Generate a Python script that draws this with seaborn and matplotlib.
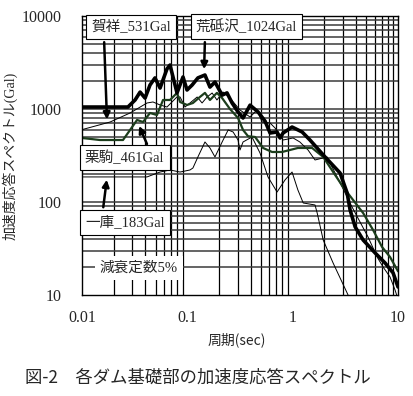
import numpy as np
import pandas as pd
import matplotlib
matplotlib.use("Agg")
import matplotlib.pyplot as plt
import seaborn as sns

# period (sec) / spectral acceleration (Gal)
aratozawa_t = [0.01, 0.0273, 0.0319, 0.0356, 0.0397, 0.0442, 0.0493, 0.0551, 0.0641, 0.0685,
               0.0798, 0.091, 0.0993, 0.111, 0.126, 0.147, 0.164, 0.183, 0.214, 0.238,
               0.266, 0.303, 0.338, 0.394, 0.469, 0.547, 0.61, 0.711, 0.759, 0.811,
               0.987, 1.23, 1.46, 2.03, 2.82, 3.29, 3.51, 3.92, 4.67, 6.07, 7.54, 8.98, 10]
aratozawa_s = [1050, 1050, 1250, 1520, 1310, 1810, 2160, 1680, 2700, 2970,
               1490, 2210, 1600, 1810, 2160, 2320, 1720, 1950, 1410, 1490,
               1160, 930, 800, 1100, 930, 740, 552, 566, 488, 552,
               640, 566, 464, 305, 205, 125, 82, 54, 39, 28.3, 22.1, 17.3, 12.2]

kurikoma_t = [0.01, 0.0148, 0.0245, 0.0286, 0.0333, 0.038, 0.0442, 0.0515, 0.0588, 0.0685,
              0.0798, 0.0853, 0.0993, 0.113, 0.132, 0.147, 0.164, 0.191, 0.214, 0.254,
              0.303, 0.338, 0.377, 0.44, 0.524, 0.637, 0.793, 1.12, 1.53, 1.95,
              3.01, 3.75, 4.67, 5.8, 7.06, 8.41, 10]
kurikoma_s = [488, 464, 464, 595, 762, 725, 906, 862, 1250, 1250,
              1490, 1190, 1105, 1160, 1350, 1490, 1250, 1490, 1310, 1000,
              800, 595, 510, 500, 381, 345, 345, 381, 381, 305,
              145, 105, 76, 50, 32.8, 25.6, 18]

kasho_t = [0.01, 0.0185, 0.0286, 0.0414, 0.0472, 0.0551, 0.0641, 0.0798, 0.0853, 0.0951,
           0.106, 0.124, 0.138, 0.154, 0.172, 0.191, 0.218, 0.254, 0.316, 0.394,
           0.459, 0.512, 0.61, 0.68, 0.811, 1.01, 1.17, 1.4, 1.63, 2.12,
           2.95, 3.29, 3.67, 4.36, 5.2, 6.34, 7.22, 8.41, 9.38, 10]
kasho_s = [600, 725, 906, 1160, 1190, 1105, 1050, 1350, 1346, 1051,
           1161, 1346, 1161, 1346, 1486, 1250, 1523, 1313, 976, 820,
           976, 725, 707, 625, 464, 488, 442, 362, 283, 305,
           145, 113, 88, 61, 42, 25.6, 20, 15.6, 11.3, 9]

hitokura_t = [0.01, 0.0414, 0.0551, 0.0685, 0.0853, 0.106, 0.113, 0.126, 0.147, 0.164,
              0.183, 0.214, 0.244, 0.272, 0.303, 0.316, 0.338, 0.411, 0.49, 0.583,
              0.711, 0.847, 0.987, 1.12, 1.26, 1.63, 1.71, 1.95, 2.42, 3.29, 3.5]
hitokura_s = [186, 186, 210, 221, 210, 221, 232, 305, 442, 381,
              305, 442, 595, 566, 464, 362, 442, 500, 336, 186,
              128, 173, 210, 135, 97.6, 92.9, 76, 39, 22.1, 10.5, 9]

x_ticks = [0.01, 0.1, 1, 10]
x_labels = ["0.01", "0.1", "1", "10"]
y_ticks = [10, 100, 1000, 10000]
y_labels = ["10", "100", "1000", "10000"]

sns.set_style("white")
plt.rcParams['font.family'] = ['Liberation Serif', 'Noto Sans CJK JP']
jp = ['Liberation Serif', 'Noto Sans CJK JP']

fig = plt.figure(figsize=(4.14, 3.96), dpi=100)
ax = fig.add_axes([82/414, 1-295/396, 316/414, 279/396])
ax.set_xscale("log")
ax.set_yscale("log")
ax.set_xlim(0.01, 10)
ax.set_ylim(10, 10000)

# grid: every 1..9 of each decade
for dec in [0.01, 0.1, 1]:
    for k in range(2, 10):
        ax.axvline(dec*k, color="black", lw=0.9, zorder=1)
for dec in [10, 100, 1000]:
    for k in range(1, 10):
        if k == 1 and dec == 10:
            continue
        ax.axhline(dec*k, color="#3a3a3a", lw=1.1, zorder=1)

sns.lineplot(data=pd.DataFrame({"t": hitokura_t, "s": hitokura_s}), x="t", y="s",
             sort=False, estimator=None, color="black", lw=0.7, ax=ax, zorder=3)
sns.lineplot(data=pd.DataFrame({"t": kasho_t, "s": kasho_s}), x="t", y="s",
             sort=False, estimator=None, color="black", lw=0.7, ax=ax, zorder=3)
sns.lineplot(data=pd.DataFrame({"t": kurikoma_t, "s": kurikoma_s}), x="t", y="s",
             sort=False, estimator=None, color="#1c3d1c", lw=1.6, ax=ax, zorder=4)
sns.lineplot(data=pd.DataFrame({"t": aratozawa_t, "s": aratozawa_s}), x="t", y="s",
             sort=False, estimator=None, color="black", lw=2.6, ax=ax, zorder=5)

ax.set_xticks(x_ticks)
ax.set_xticklabels(x_labels)
ax.set_yticks(y_ticks)
ax.set_yticklabels(y_labels)
ax.minorticks_off()
ax.tick_params(axis="both", length=0, labelsize=11.5)
ax.tick_params(axis="y", pad=15)
ax.tick_params(axis="x", pad=11)
for sp in ax.spines.values():
    sp.set_color("black")
    sp.set_linewidth(1.0)
    sp.set_zorder(6)

ax.set_xlabel("周期(sec)", family=['Noto Sans CJK JP'], fontsize=10)
ax.xaxis.set_label_coords(0.49, -0.135)
ax.set_ylabel("加速度応答スペクトル(Gal)", family=jp, fontsize=10)
ax.yaxis.set_label_coords(-0.205, 0.5)

box = dict(boxstyle="square,pad=0.35", fc="white", ec="black", lw=0.8)
ax.text(0.155, 0.962, "賀祥_531Gal", transform=ax.transAxes, ha="center", va="center",
        fontsize=10.5, family=jp, bbox=box, zorder=8)
ax.text(0.52, 0.962, "荒砥沢_1024Gal", transform=ax.transAxes, ha="center", va="center",
        fontsize=10.5, family=jp, bbox=box, zorder=8)
ax.text(0.135, 0.493, "栗駒_461Gal", transform=ax.transAxes, ha="center", va="center",
        fontsize=10.5, family=jp, bbox=box, zorder=8)
ax.text(0.136, 0.26, "一庫_183Gal", transform=ax.transAxes, ha="center", va="center",
        fontsize=10.5, family=jp, bbox=box, zorder=8)
ax.text(0.18, 0.097, "減衰定数5%", transform=ax.transAxes, ha="center", va="center",
        fontsize=10.5, family=jp, zorder=8,
        bbox=dict(boxstyle="square,pad=0.35", fc="white", ec="none"))

arrow = dict(arrowstyle="-|>", color="black", lw=1.8, mutation_scale=10)
ax.annotate("", xy=(0.0173, 720), xytext=(0.0162, 5600), arrowprops=arrow, zorder=7)
ax.annotate("", xy=(0.144, 2500), xytext=(0.147, 5600), arrowprops=arrow, zorder=7)
ax.annotate("", xy=(0.034, 700), xytext=(0.0424, 395), arrowprops=arrow, zorder=7)
ax.annotate("", xy=(0.0173, 186), xytext=(0.0158, 82), arrowprops=arrow, zorder=7)

fig.text(198/414, 1-378/396, "図-2　各ダム基礎部の加速度応答スペクトル", ha="center", va="center",
         fontsize=12.5, family=['Noto Sans CJK JP'])

fig.savefig("out.png", dpi=100)
